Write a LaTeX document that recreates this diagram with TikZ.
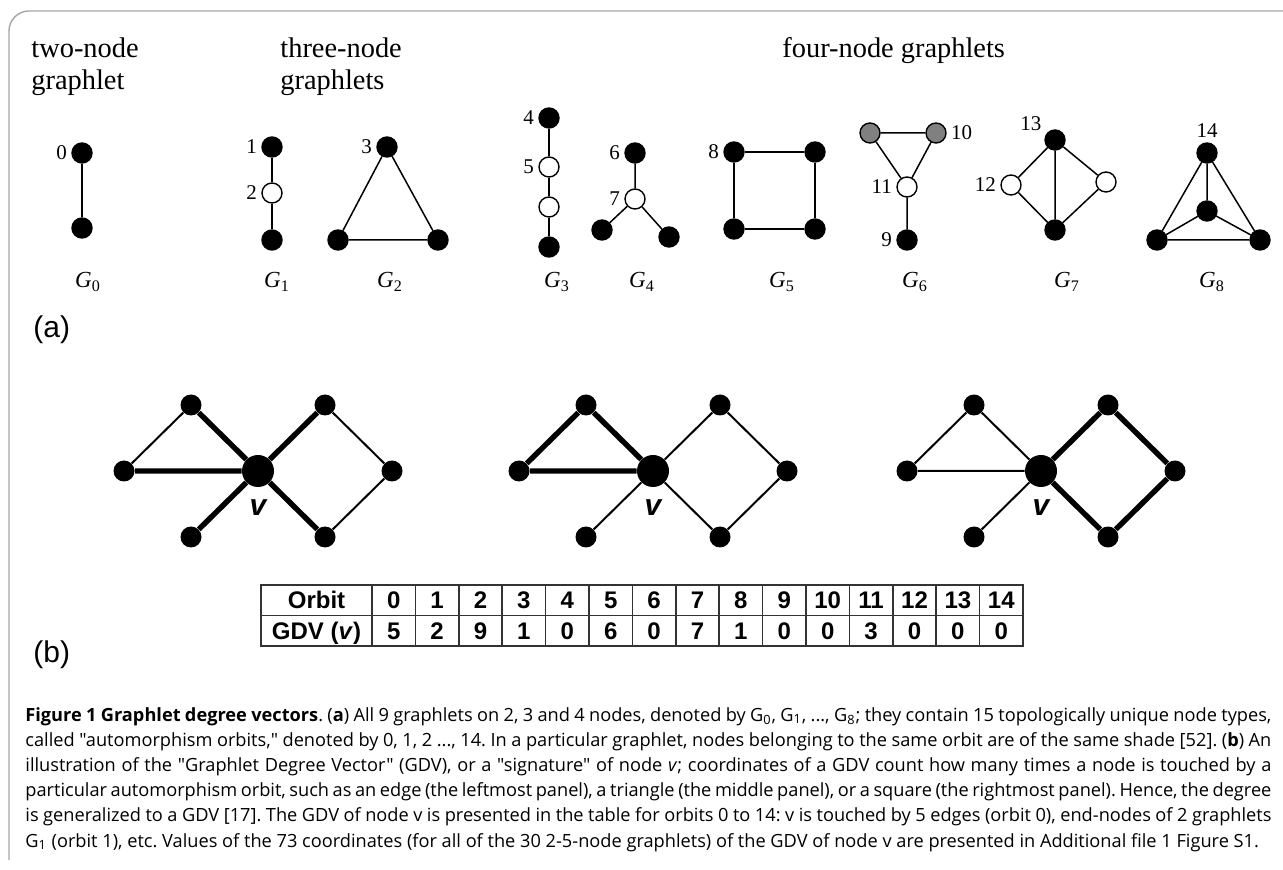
\documentclass[tikz,border=0pt]{standalone}
\usepackage{fontspec}
\setmainfont{Liberation Serif}
\setsansfont{Liberation Sans}
\newfontfamily\capfont{Open Sans}
\newcommand{\gl}[1]{\textit{G}\textsubscript{#1}}
\tikzset{
dot/.style={circle, draw, line width=0.7pt, fill=black, inner sep=0pt, minimum size=10pt}, % orbit node
hollowdot/.style={dot, fill=white},
greydot/.style={dot, fill=gray},
link/.style={line width=0.75pt},
heavy/.style={line width=2.7pt},
light/.style={line width=1pt},
hub/.style={circle, fill=black, inner sep=0pt, minimum size=16pt}, % node v
leaf/.style={circle, fill=black, inner sep=0pt, minimum size=10.5pt},
head/.style={anchor=base west, inner sep=0pt, font=\fontsize{14.2}{16}\selectfont},
gname/.style={anchor=base, inner sep=0pt, font=\fontsize{11.5}{13}\selectfont},
panel/.style={anchor=base west, inner sep=0pt, font=\sffamily\fontsize{15}{17}\selectfont},
vname/.style={inner sep=0pt, font=\sffamily\bfseries\itshape\fontsize{15}{17}\selectfont},
cell/.style={anchor=base, inner sep=0pt, font=\sffamily\bfseries\fontsize{12}{14}\selectfont},
rule/.style={line width=0.8pt, black!80},
capline/.style={anchor=base west, inner sep=0pt, font=\capfont\frenchspacing\fontsize{9.1}{12}\selectfont},
every label/.style={font=\fontsize{10.5}{12}\selectfont, inner sep=2pt},
}

\begin{document}
\begin{tikzpicture}[x=0.5pt, y=-0.5pt]
\useasboundingbox[fill=white] (0,0) rectangle (1283,870);
\draw[gray!70, line width=0.7pt, rounded corners=10pt] (9,860) -- (9,11) -- (1283,11);

% (a) the graphlets
\node[head] (h2) at (31,58) {two-node};
\node[head] (h2b) at (31,90) {graphlet};
\node[head] (h3) at (280,58) {three-node};
\node[head] (h3b) at (280,90) {graphlets};
\node[head] (h4) at (782,58) {four-node graphlets};

\node[dot, label=left:0] (g0a) at (82,153) {};
\node[dot] (g0b) at (82,228) {};
\draw[link] (g0a) -- (g0b);

\node[dot, label=left:1] (g1a) at (272,147) {};
\node[hollowdot, label=left:2] (g1b) at (272,193) {};
\node[dot] (g1c) at (272,240) {};
\draw[link] (g1a) -- (g1b) -- (g1c);

\node[dot, label=left:3] (g2a) at (387,147) {};
\node[dot] (g2b) at (338,240) {};
\node[dot] (g2c) at (438,240) {};
\draw[link] (g2a) -- (g2b) -- (g2c) -- (g2a);

\node[dot, label=left:4] (g3a) at (549,118) {};
\node[hollowdot, label=left:5] (g3b) at (549,167) {};
\node[hollowdot] (g3c) at (549,207) {};
\node[dot] (g3d) at (549,247) {};
\draw[link] (g3a) -- (g3b) -- (g3c) -- (g3d);

\node[dot, label=left:6] (g4a) at (635,153) {};
\node[hollowdot, label=left:7] (g4b) at (635,199) {};
\node[dot] (g4c) at (602,230) {};
\node[dot] (g4d) at (669,237) {};
\draw[link] (g4b) -- (g4a) (g4b) -- (g4c) (g4b) -- (g4d);

\node[dot, label=left:8] (g5a) at (734,152) {};
\node[dot] (g5b) at (815,152) {};
\node[dot] (g5c) at (815,229) {};
\node[dot] (g5d) at (734,229) {};
\draw[link] (g5a) -- (g5b) -- (g5c) -- (g5d) -- (g5a);

\node[greydot] (g6a) at (870,133) {};
\node[greydot, label=right:10] (g6b) at (936,133) {};
\node[hollowdot, label=left:11] (g6c) at (907,187) {};
\node[dot, label=left:9] (g6d) at (907,240) {};
\draw[link] (g6a) -- (g6b) -- (g6c) -- (g6a) (g6c) -- (g6d);

\node[dot, label=150:13] (g7a) at (1055,140) {};
\node[hollowdot, label=left:12] (g7b) at (1011,185) {};
\node[hollowdot] (g7c) at (1106,182) {};
\node[dot] (g7d) at (1055,230) {};
\draw[link] (g7a) -- (g7b) -- (g7d) -- (g7c) -- (g7a) -- (g7d);

\node[dot, label=above:14] (g8a) at (1207,153) {};
\node[dot] (g8b) at (1207,211) {};
\node[dot] (g8c) at (1157,240) {};
\node[dot] (g8d) at (1260,240) {};
\draw[link] (g8a) -- (g8c) -- (g8d) -- (g8a) -- (g8b) (g8b) -- (g8c) (g8b) -- (g8d);

\foreach \i/\x in {0/88, 1/277, 2/390, 3/557, 4/642, 5/782, 6/915, 7/1067, 8/1212}
  \node[gname] (n\i) at (\x,288) {\gl{\i}};

\node[panel] (pa) at (33,338) {(a)};

% (b) node v in three panels
\foreach \p/\x in {a/258, b/653, c/1041} {
  \node[hub] (\p-v) at (\x,471) {};
  \node[leaf] (\p-w) at (\x-134,471) {};
  \node[leaf] (\p-nw) at (\x-67,405) {};
  \node[leaf] (\p-sw) at (\x-67,537) {};
  \node[leaf] (\p-ne) at (\x+67,405) {};
  \node[leaf] (\p-e) at (\x+134,471) {};
  \node[leaf] (\p-se) at (\x+67,537) {};
  \node[vname] (\p-n) at (\x,508) {v};
}
\draw[heavy] (a-v) -- (a-w) (a-v) -- (a-nw) (a-v) -- (a-sw) (a-v) -- (a-ne) (a-v) -- (a-se);
\draw[light] (a-w) -- (a-nw) (a-ne) -- (a-e) -- (a-se);
\draw[heavy] (b-v) -- (b-w) -- (b-nw) -- (b-v);
\draw[light] (b-v) -- (b-sw) (b-v) -- (b-ne) -- (b-e) -- (b-se) -- (b-v);
\draw[heavy] (c-v) -- (c-ne) -- (c-e) -- (c-se) -- (c-v);
\draw[light] (c-v) -- (c-w) -- (c-nw) -- (c-v) (c-v) -- (c-sw);

% GDV table
\draw[rule] (261,585) rectangle (1023,646);
\draw[rule] (261,615.5) -- (1023,615.5);
\foreach \i in {0,...,14}
  \draw[rule] ({372+43.4*\i},585) -- ({372+43.4*\i},646);
\node[cell] (orbit) at (316.5,608.5) {Orbit};
\node[cell] (gdv) at (316.5,639) {GDV (\textit{v})};
\foreach \i/\g in {0/5,1/2,2/9,3/1,4/0,5/6,6/0,7/7,8/1,9/0,10/0,11/3,12/0,13/0,14/0} {
  \node[cell] (o\i) at ({393.7+43.4*\i},608.5) {\i};
  \node[cell] (d\i) at ({393.7+43.4*\i},639) {\g};
}

\node[panel] (pb) at (33,662) {(b)};

% caption
\node[capline] (c1) at (25,721) {\makebox[623pt][s]{\textbf{Figure 1 Graphlet degree vectors}. (\textbf{a}) All 9 graphlets on 2, 3 and 4 nodes, denoted by G\textsubscript{0}, G\textsubscript{1}, ..., G\textsubscript{8}; they contain 15 topologically unique node types,}};
\node[capline] (c2) at (25,746.2) {\makebox[623pt][s]{called "automorphism orbits," denoted by 0, 1, 2 ..., 14. In a particular graphlet, nodes belonging to the same orbit are of the same shade [52]. (\textbf{b}) An}};
\node[capline] (c3) at (25,771.4) {\makebox[623pt][s]{illustration of the "Graphlet Degree Vector" (GDV), or a "signature" of node \textit{v}; coordinates of a GDV count how many times a node is touched by a}};
\node[capline] (c4) at (25,796.6) {\makebox[623pt][s]{particular automorphism orbit, such as an edge (the leftmost panel), a triangle (the middle panel), or a square (the rightmost panel). Hence, the degree}};
\node[capline] (c5) at (25,821.8) {\makebox[623pt][s]{is generalized to a GDV [17]. The GDV of node v is presented in the table for orbits 0 to 14: v is touched by 5 edges (orbit 0), end-nodes of 2 graphlets}};
\node[capline] (c6) at (25,847) {G\textsubscript{1} (orbit 1), etc. Values of the 73 coordinates (for all of the 30 2-5-node graphlets) of the GDV of node v are presented in Additional file 1 Figure S1.};
\end{tikzpicture}
\end{document}
